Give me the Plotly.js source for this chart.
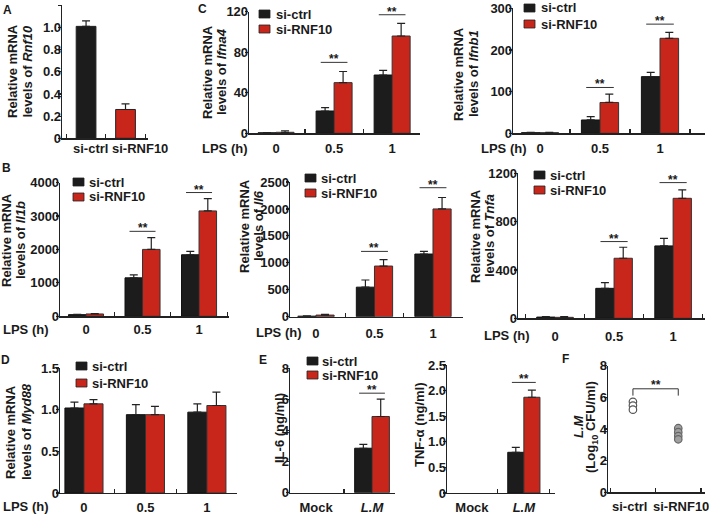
<!DOCTYPE html>
<html><head><meta charset="utf-8">
<script src="https://cdn.plot.ly/plotly-3.0.1.min.js"></script>
<style>html,body{margin:0;padding:0;background:#fff}#chart{width:709px;height:514px}</style>
</head><body><div id="chart"></div>
<script>
// ---------------- data ----------------
const rnf10Groups = ['si-ctrl', 'si-RNF10'];
const rnf10Values = [1.01, 0.26];
const rnf10Errors = [0.05, 0.05];
const rnf10Ticks = [0, 0.2, 0.4, 0.6, 0.8, 1.0, 1.2];
const rnf10TickText = ['0', '0.2', '0.4', '0.6', '0.8', '1.0', '1.2'];

const lpsTimes = ['0', '0.5', '1'];

const ifna4Ctrl = [0.5, 22, 57.5];
const ifna4CtrlErr = [0.3, 3.3, 4.5];
const ifna4Rnf = [1, 50, 96];
const ifna4RnfErr = [1.5, 11, 12.5];
const ifna4Sig = [null, 70, 117];

const ifnb1Ctrl = [1.5, 32, 136];
const ifnb1CtrlErr = [0.5, 8, 10];
const ifnb1Rnf = [1.5, 74, 228];
const ifnb1RnfErr = [0.5, 20, 14];
const ifnb1Sig = [null, 110, 262];

const il1bCtrl = [50, 1150, 1840];
const il1bCtrlErr = [10, 90, 100];
const il1bRnf = [70, 2000, 3150];
const il1bRnfErr = [10, 350, 370];
const il1bSig = [null, 2540, 3700];

const il6Ctrl = [10, 548, 1163];
const il6CtrlErr = [5, 133, 49];
const il6Rnf = [30, 940, 2000];
const il6RnfErr = [12, 120, 212];
const il6Sig = [null, 1212, 2394];

const tnfaCtrl = [10, 248, 599];
const tnfaCtrlErr = [5, 47, 63];
const tnfaRnf = [8, 497, 993];
const tnfaRnfErr = [6, 91, 70];
const tnfaSig = [null, 635, 1123];

const myd88Ctrl = [1.02, 0.94, 0.97];
const myd88CtrlErr = [0.07, 0.12, 0.10];
const myd88Rnf = [1.07, 0.94, 1.05];
const myd88RnfErr = [0.05, 0.10, 0.16];
const myd88Ticks = [0, 0.5, 1.0, 1.5];
const myd88TickText = ['0', '0.5', '1.0', '1.5'];

const infectionGroups = ['Mock', '<i>L.M</i>'];
const il6ProteinCtrl = [null, 2.86];
const il6ProteinCtrlErr = [0, 0.25];
const il6ProteinRnf = [null, 4.9];
const il6ProteinRnfErr = [0, 1.12];
const il6ProteinSig = [null, 6.4];

const tnfProteinCtrl = [null, 0.795];
const tnfProteinCtrlErr = [0, 0.095];
const tnfProteinRnf = [null, 1.87];
const tnfProteinRnfErr = [0, 0.14];
const tnfProteinSig = [null, 2.16];
const tnfTicks = [0, 0.5, 1.0, 1.5, 2.0, 2.5];
const tnfTickText = ['0', '0.5', '1.0', '1.5', '2.0', '2.5'];

const cfuCtrl = [5.72, 5.48, 5.22];
const cfuRnf = [4.05, 3.8, 3.55, 3.35];
const cfuSig = 6.54;
const cfuSigDrop = 6.11;

// ---------------- style ----------------
const W = 709, H = 514;
const px = v => v / W;
const py = v => 1 - v / H;
const BLACK = '#1c1c1c', RED = '#c9261b', INK = '#1a1a1a';
const FONT = 'Liberation Sans, Arial, sans-serif';

const traces = [];
const shapes = [];
const annotations = [];
const layout = {
  width: W, height: H, margin: {l: 0, r: 0, t: 0, b: 0},
  paper_bgcolor: '#fff', plot_bgcolor: '#fff',
  showlegend: false, barmode: 'group', bargap: 0.38, bargroupgap: 0,
  font: {family: FONT, size: 13, color: INK, weight: 'bold'},
  shapes: shapes, annotations: annotations
};

function ax(n) { return n === 1 ? '' : String(n); }

function addAxes(n, g) {
  layout['xaxis' + ax(n)] = {
    domain: [px(g.x[0]), px(g.x[1])], anchor: 'y' + ax(n), type: 'category',
    range: g.xr, showline: true, linecolor: '#222', linewidth: 1.3,
    ticks: 'inside', tickson: 'boundaries', ticklen: 4, tickwidth: 1.2, tickcolor: '#222',
    showgrid: false, zeroline: false, fixedrange: true, tickangle: 0,
    showticklabels: !g.noLabels,
    ticklabelstandoff: g.so || 0,
    tickfont: {family: FONT, size: 13, color: INK, weight: 'bold'}
  };
  const ya = {
    domain: [py(g.y[1]), py(g.y[0])], anchor: 'x' + ax(n), range: g.yr,
    showline: true, linecolor: '#222', linewidth: 1.3,
    ticks: 'outside', ticklen: 3, tickwidth: 1.2, tickcolor: '#222',
    showgrid: false, zeroline: false, fixedrange: true,
    ticklabelstandoff: -6,
    tickfont: {family: FONT, size: 13, color: INK, weight: 'bold'}
  };
  if (g.tv) { ya.tickmode = 'array'; ya.tickvals = g.tv; ya.ticktext = g.tt; }
  else { ya.dtick = g.dtick; ya.tick0 = 0; }
  layout['yaxis' + ax(n)] = ya;
}

function errSpec(e) {
  return {type: 'data', symmetric: false, array: e, arrayminus: e.map(() => 0),
          color: '#222', thickness: 1.2, width: 4};
}

function addPair(n, cats, c, ce, r, re) {
  traces.push({type: 'bar', name: 'si-ctrl', x: cats, y: c, xaxis: 'x' + ax(n), yaxis: 'y' + ax(n),
    marker: {color: BLACK, line: {color: '#111', width: 1}}, error_y: errSpec(ce)});
  traces.push({type: 'bar', name: 'si-RNF10', x: cats, y: r, xaxis: 'x' + ax(n), yaxis: 'y' + ax(n),
    marker: {color: RED, line: {color: '#333', width: 1}}, error_y: errSpec(re)});
}

function addSig(n, sig) {
  sig.forEach((s, i) => {
    if (s === null) return;
    shapes.push({type: 'line', xref: 'x' + ax(n), yref: 'y' + ax(n), x0: i - 0.23, x1: i + 0.23, y0: s, y1: s,
      line: {color: '#333', width: 1}});
    annotations.push({xref: 'x' + ax(n), yref: 'y' + ax(n), x: i, y: s, yshift: 3, showarrow: false,
      text: '**', font: {family: FONT, size: 12, color: INK, weight: 'bold'}});
  });
}

function addLegend(sx, sy, tx, gap) {
  [[BLACK, 'si-ctrl'], [RED, 'si-RNF10']].forEach((it, k) => {
    const top = sy + k * gap;
    shapes.push({type: 'rect', xref: 'paper', yref: 'paper', x0: px(sx), x1: px(sx + 11), y0: py(top + 8), y1: py(top),
      fillcolor: it[0], line: {color: '#222', width: 0.8}});
    annotations.push({xref: 'paper', yref: 'paper', x: px(tx), y: py(top + 4), xanchor: 'left', yanchor: 'middle',
      showarrow: false, text: it[1], font: {family: FONT, size: 13, color: INK, weight: 'bold'}});
  });
}

function label(x, y, text, rot, size) {
  annotations.push({xref: 'paper', yref: 'paper', x: px(x), y: py(y), xanchor: 'center', yanchor: 'middle',
    showarrow: false, text: text, textangle: rot || 0,
    font: {family: FONT, size: size || 13, color: INK, weight: 'bold'}});
}

function catLabel(n, i, text, shift, y) {
  annotations.push({xref: 'x' + ax(n), yref: 'paper', x: i, xshift: shift, y: py(y),
    xanchor: 'center', yanchor: 'middle', showarrow: false, text: text,
    font: {family: FONT, size: 13, color: INK, weight: 'bold'}});
}

// ---------------- panels ----------------
// A
addAxes(1, {x: [62, 148], y: [5.3, 138.3], xr: [-0.61, 1.57], yr: [0, 1.2], tv: rnf10Ticks, tt: rnf10TickText, noLabels: true});
traces.push({type: 'bar', x: rnf10Groups, y: rnf10Values, width: 0.5, xaxis: 'x', yaxis: 'y',
  marker: {color: [BLACK, RED], line: {color: '#222', width: 1}}, error_y: errSpec(rnf10Errors)});
catLabel(1, 0, rnf10Groups[0], 4, 148.5);
catLabel(1, 1, rnf10Groups[1], 14, 148.5);
label(13, 71, 'Relative mRNA', -90); label(27.5, 71, 'levels of <i>Rnf10</i>', -90);
label(7, 10, 'A', 0, 12);

// C - Ifna4
addAxes(2, {x: [249, 420], y: [11.7, 133.3], xr: [-0.466, 2.48], yr: [0, 120], dtick: 40, so: 3});
addPair(2, lpsTimes, ifna4Ctrl, ifna4CtrlErr, ifna4Rnf, ifna4RnfErr);
addSig(2, ifna4Sig);
addLegend(259, 10, 274, 15);
label(208, 72, 'Relative mRNA', -90); label(222, 72, 'levels of <i>Ifna4</i>', -90);
label(225, 148, 'LPS (h)');
label(202, 9, 'C', 0, 12);

// C - Ifnb1
addAxes(3, {x: [513, 705], y: [8.3, 133.3], xr: [-0.45, 2.75], yr: [0, 300], dtick: 100, so: 3});
addPair(3, lpsTimes, ifnb1Ctrl, ifnb1CtrlErr, ifnb1Rnf, ifnb1RnfErr);
addSig(3, ifnb1Sig);
addLegend(524, 4, 539, 16);
label(459, 74, 'Relative mRNA', -90); label(474, 74, 'levels of <i>Ifnb1</i>', -90);
label(504, 148, 'LPS (h)');

// B - Il1b
addAxes(4, {x: [60, 229], y: [182.5, 316.3], xr: [-0.46, 2.53], yr: [0, 4000], dtick: 1000, so: 1});
addPair(4, lpsTimes, il1bCtrl, il1bCtrlErr, il1bRnf, il1bRnfErr);
addSig(4, il1bSig);
addLegend(73, 178, 87, 15);
label(6, 240, 'Relative mRNA', -90); label(20, 240, 'levels of <i>Il1b</i>', -90);
label(26, 329, 'LPS (h)');
label(6, 168, 'B', 0, 12);

// B - Il6
addAxes(5, {x: [290, 463], y: [182, 316.7], xr: [-0.444, 2.513], yr: [0, 2500], dtick: 500, so: 4});
addPair(5, lpsTimes, il6Ctrl, il6CtrlErr, il6Rnf, il6RnfErr);
addSig(5, il6Sig);
addLegend(305, 174, 319, 15);
label(244, 226, 'Relative mRNA', -90); label(258, 226, 'levels of <i>Il6</i>', -90);
label(279, 332, 'LPS (h)');

// B - Tnfa
addAxes(6, {x: [518, 705], y: [173.3, 318.3], xr: [-0.627, 2.54], yr: [0, 1200], dtick: 400, so: 6});
addPair(6, lpsTimes, tnfaCtrl, tnfaCtrlErr, tnfaRnf, tnfaRnfErr);
addSig(6, tnfaSig);
addLegend(534, 171, 548, 15);
label(476, 236, 'Relative mRNA', -90); label(490, 236, 'levels of <i>Tnfa</i>', -90);
label(507, 335, 'LPS (h)');

// D - Myd88
addAxes(7, {x: [60, 237], y: [368, 493], xr: [-0.39, 2.49], yr: [0, 1.5], tv: myd88Ticks, tt: myd88TickText, so: 2});
addPair(7, lpsTimes, myd88Ctrl, myd88CtrlErr, myd88Rnf, myd88RnfErr);
addLegend(76, 362, 90, 17);
label(10, 432, 'Relative mRNA', -90); label(26, 432, 'levels of <i>Myd88</i>', -90);
label(26, 506, 'LPS (h)');
label(5, 360, 'D', 0, 12);

// E - IL-6
addAxes(8, {x: [290, 395], y: [368.3, 492.7], xr: [-0.464, 1.41], yr: [0, 8], dtick: 2, so: 2});
addPair(8, infectionGroups, il6ProteinCtrl, il6ProteinCtrlErr, il6ProteinRnf, il6ProteinRnfErr);
addSig(8, il6ProteinSig);
addLegend(307, 357, 320, 14);
label(279, 428, 'IL-6 (ng/ml)', -90);
label(263, 360, 'E', 0, 12);

// E - TNF-a
addAxes(9, {x: [447, 555], y: [365, 493], xr: [-0.48, 1.6], yr: [0, 2.5], tv: tnfTicks, tt: tnfTickText, so: 2});
addPair(9, infectionGroups, tnfProteinCtrl, tnfProteinCtrlErr, tnfProteinRnf, tnfProteinRnfErr);
addSig(9, tnfProteinSig);
label(419, 425, 'TNF-α (ng/ml)', -90);

// F
addAxes(10, {x: [608, 705], y: [365.7, 492.3], xr: [-0.55, 1.59], yr: [0, 8], dtick: 2, noLabels: true});
traces.push({type: 'scatter', mode: 'markers', x: cfuCtrl.map(() => rnf10Groups[0]), y: cfuCtrl,
  xaxis: 'x10', yaxis: 'y10', marker: {size: 7.5, color: '#fff', line: {color: '#555', width: 1.2}}});
traces.push({type: 'scatter', mode: 'markers', x: cfuRnf.map(() => rnf10Groups[1]), y: cfuRnf,
  xaxis: 'x10', yaxis: 'y10', marker: {size: 7.5, color: '#a0a0a0', line: {color: '#666', width: 1.2}}});
shapes.push({type: 'line', xref: 'x10', yref: 'y10', x0: 0, x1: 1, y0: cfuSig, y1: cfuSig, line: {color: '#333', width: 1}});
shapes.push({type: 'line', xref: 'x10', yref: 'y10', x0: 0, x1: 0, y0: cfuSig, y1: cfuSigDrop, line: {color: '#333', width: 1}});
shapes.push({type: 'line', xref: 'x10', yref: 'y10', x0: 1, x1: 1, y0: cfuSig, y1: cfuSigDrop, line: {color: '#333', width: 1}});
annotations.push({xref: 'x10', yref: 'y10', x: 0.5, y: cfuSig, yshift: 4, showarrow: false, text: '**',
  font: {family: FONT, size: 12, color: INK, weight: 'bold'}});
catLabel(10, 0, rnf10Groups[0], -3, 506);
catLabel(10, 1, rnf10Groups[1], 3, 506);
label(578, 426, '<i>L.M</i>', -90); label(591, 427, '(Log<sub>10</sub> CFU/ml)', -90);
label(565, 359, 'F', 0, 12);

Plotly.newPlot('chart', traces, layout, {staticPlot: true, displayModeBar: false});
</script></body></html>
